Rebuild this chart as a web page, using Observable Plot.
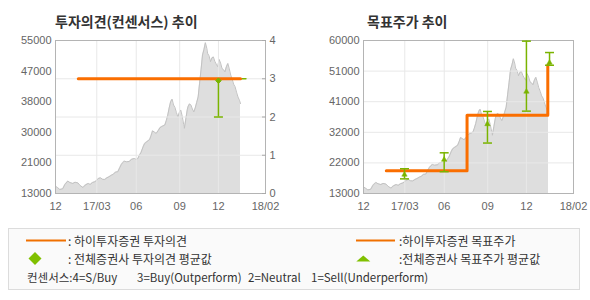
<!DOCTYPE html>
<html><head><meta charset="utf-8">
<script src="https://cdn.jsdelivr.net/npm/d3@7"></script>
<script src="https://cdn.jsdelivr.net/npm/@observablehq/plot@0.6"></script>
<style>
body{margin:0;background:#fff;}
#wrap{position:relative;width:590px;height:300px;overflow:hidden;background:#fff;font-family:"Noto Sans CJK KR","Noto Sans",sans-serif;}
.abs{position:absolute;}
.title{font-weight:bold;font-size:14px;color:#333;line-height:14px;white-space:pre;}
.lg{font-size:12px;color:#333;line-height:12px;white-space:pre;}
.lg3{font-size:11.5px;}
#legend{left:8px;top:228px;width:572px;height:62px;box-sizing:border-box;border:1px solid #dcdcdc;background:#fafafa;}
</style></head><body>
<div id="wrap">
  <div id="c1" class="abs" style="left:0;top:0"></div>
  <div id="c1b" class="abs" style="left:0;top:0"></div>
  <div id="c2" class="abs" style="left:295px;top:0"></div>
  <div class="abs title" style="left:55px;top:14px">투자의견(컨센서스) 추이</div>
  <div class="abs title" style="left:367px;top:14px">목표주가 추이</div>
  <div id="legend" class="abs"></div>
  <svg class="abs" style="left:0;top:0" width="590" height="300" id="lgsvg">
    <line x1="26" x2="66" y1="240.5" y2="240.5" stroke="#f07000" stroke-width="2"/>
    <polygon points="35,252 41.5,258.5 35,265 28.5,258.5" fill="#80c000"/>
    <line x1="356" x2="395" y1="240.5" y2="240.5" stroke="#f07000" stroke-width="2"/>
    <polygon points="363.3,255.5 370.3,261.5 356.3,261.5" fill="#80c000"/>
  </svg>
  <div class="abs lg" style="left:68px;top:234.5px">: 하이투자증권 투자의견</div>
  <div class="abs lg" style="left:68px;top:252.5px">: 전체증권사 투자의견 평균값</div>
  <div class="abs lg" style="left:399px;top:234.5px">:하이투자증권 목표주가</div>
  <div class="abs lg" style="left:399px;top:252.5px">:전체증권사 목표주가 평균값</div>
  <div class="abs lg lg3" style="left:27px;top:271px">컨센서스:4=S/Buy</div>
  <div class="abs lg lg3" style="left:137px;top:271px">3=Buy(Outperform)</div>
  <div class="abs lg lg3" style="left:248px;top:271px">2=Neutral</div>
  <div class="abs lg lg3" style="left:311px;top:271px">1=Sell(Underperform)</div>
</div>
<script>
// ---- data ----
const xTickPos = [0, 57, 111.5, 171.5, 225, 290];
const xTickLabels = ["12", "17/03", "06", "09", "12", "18/02"];

const priceIdx = [0,3,6,10,13,17,20,24,27,31,34,38,41,45,48,51,54,57,59,62,65,68,71,74,77,80,83,86,89,91,93,95,98,102,105,109,112,114,116,118,121,123,126,128,130,132,134,137,139,142,144,146,148,151,153,155,157,159,161,163,165,167,169,171,173,175,177,178,180,182,183,185,187,189,191,193,195,197,199,201,203,205,207,209,210,212,214,216,218,220,222,224,226,228,230,232,234,236,238,240,242,244,246,248,250,252,254,255.5];
const priceVal = [15000,14600,14100,14300,15500,16400,16000,15750,16100,15900,15200,14650,15300,15750,15500,16000,16200,16600,17100,17300,16900,16850,17300,17600,18000,18300,18900,18950,20200,21000,21500,21900,21700,21800,22400,22600,22300,22700,23600,24200,25800,26700,27200,27500,27800,28900,30200,29800,29500,30300,31000,31300,31500,31800,33000,34500,36500,38200,38900,37300,36600,35200,34000,35200,35900,34200,32000,30900,33500,36000,36800,37600,37300,36200,35400,36500,38000,39500,43300,47000,51000,52500,54400,52800,51500,50800,49200,50200,50500,49300,48500,47800,49800,48800,47300,47000,46400,47800,48700,47200,45500,44400,43000,42300,40800,39500,38600,37700];

const leftPriceTicks = [13000, 21400, 29800, 38200, 46600, 55000];
const leftPriceLabels = ["13000", "21000", "30000", "38000", "47000", "55000"];
const rightPriceTicks = [13000, 22400, 31800, 41200, 50600, 60000];
const rightPriceLabels = ["13000", "22000", "32000", "41000", "51000", "60000"];
const ratingTicks = [0, 1, 2, 3, 4];

// 하이투자증권 투자의견
const opinionIdx = [31.5, 255.5];
const opinionVal = [3, 3];
const consensusLineIdx = [255.5, 263];
const consensusLineVal = [3, 3];
// 전체증권사 투자의견 (min/max/avg)
const opBarIdx = [225];
const opLow = [2];
const opHigh = [3];
const opAvg = [2.95];

// 하이투자증권 목표주가
const targetIdx = [31.5, 143, 254.5];
const targetVal = [20000, 37000, 52400];
// 전체증권사 목표주가 (min/max/avg)
const tpBarIdx = [56.6, 111.4, 171.2, 225, 256.9];
const tpLow = [17500, 19700, 28500, 38300, 52400];
const tpHigh = [20600, 25500, 38200, 59800, 56300];
const tpAvg = [18800, 23400, 34300, 44300, 53200];

// ---- build ----
const green = "#7ab400", orange = "#fa6e00", grid = "#e8e8e8", frameC = "#b4b4b4";
const price = priceIdx.map((x, i) => ({x, v: priceVal[i]}));
const opinion = opinionIdx.map((x, i) => ({x, v: opinionVal[i]}));
const consLine = consensusLineIdx.map((x, i) => ({x, v: consensusLineVal[i]}));
const opBars = opBarIdx.map((x, i) => ({x, lo: opLow[i], hi: opHigh[i], avg: opAvg[i]}));
const target = targetIdx.map((x, i) => ({x, v: targetVal[i]}));
const tpBars = tpBarIdx.map((x, i) => ({x, lo: tpLow[i], hi: tpHigh[i], avg: tpAvg[i]}));

const capSymbol = {draw(ctx, size) { const r = Math.sqrt(size / Math.PI); ctx.moveTo(-r, 0); ctx.lineTo(r, 0); }};
const style = {fontFamily: "'Liberation Sans', Arial, sans-serif", fontSize: "11px", color: "#666", background: "transparent", overflow: "visible"};
const base = {width: 295, height: 220, marginTop: 40, marginBottom: 27, style};
const lab = (ticks, labels) => d => labels[ticks.indexOf(d)];

const bars = (data) => [
  Plot.ruleX(data, {x: "x", y1: "lo", y2: "hi", stroke: green, strokeWidth: 1.5}),
  Plot.dot(data, {x: "x", y: "lo", symbol: capSymbol, r: 4.5, stroke: green, strokeWidth: 1.5}),
  Plot.dot(data, {x: "x", y: "hi", symbol: capSymbol, r: 4.5, stroke: green, strokeWidth: 1.5})
];

const p1 = Plot.plot({
  ...base, marginLeft: 55, marginRight: 30,
  x: {domain: [0, 290], axis: null},
  y: {domain: [13000, 55000], axis: null},
  marks: [
    Plot.areaY(price, {x: "x", y: "v", fill: "#dedede", clip: true}),
    Plot.lineY(price, {x: "x", y: "v", stroke: "#c2c2c2", strokeWidth: 1, clip: true}),
    Plot.ruleX(xTickPos, {stroke: grid}),
    Plot.axisX(xTickPos, {label: null, tickSize: 0, tickPadding: 9, tickFormat: lab(xTickPos, xTickLabels)}),
    Plot.axisY(leftPriceTicks, {label: null, tickSize: 0, tickPadding: 4, tickFormat: lab(leftPriceTicks, leftPriceLabels)})
  ]
});
document.getElementById("c1").append(p1);

const p1b = Plot.plot({
  ...base, marginLeft: 55, marginRight: 30,
  x: {domain: [0, 290], axis: null},
  y: {domain: [0, 4], axis: null},
  marks: [
    Plot.ruleY([1, 2, 3], {stroke: grid}),
    Plot.frame({stroke: frameC}),
    Plot.axisY(ratingTicks, {label: null, anchor: "right", tickSize: 4, insetRight: 4, tickPadding: 0, tickFormat: () => "", stroke: "#aaa"}),
    Plot.axisY(ratingTicks, {label: null, anchor: "right", tickSize: 0, tickPadding: 4}),
    Plot.line(consLine, {x: "x", y: "v", stroke: green, strokeWidth: 1.5}),
    ...bars(opBars),
    Plot.line(opinion, {x: "x", y: "v", stroke: orange, strokeWidth: 3}),
    Plot.dot(opBars, {x: "x", y: "avg", symbol: "diamond2", r: 2.5, fill: green, stroke: green, strokeWidth: 1})
  ]
});
document.getElementById("c1b").append(p1b);

const p2 = Plot.plot({
  ...base, marginLeft: 68, marginRight: 17,
  x: {domain: [0, 290], axis: null},
  y: {domain: [13000, 60000], axis: null},
  marks: [
    Plot.areaY(price, {x: "x", y: "v", fill: "#dedede", clip: true}),
    Plot.lineY(price, {x: "x", y: "v", stroke: "#c2c2c2", strokeWidth: 1, clip: true}),
    Plot.ruleX(xTickPos, {stroke: grid}),
    Plot.ruleY(rightPriceTicks, {stroke: grid}),
    Plot.frame({stroke: frameC}),
    Plot.axisX(xTickPos, {label: null, tickSize: 0, tickPadding: 9, tickFormat: lab(xTickPos, xTickLabels)}),
    Plot.axisY(rightPriceTicks, {label: null, tickSize: 0, tickPadding: 4, tickFormat: lab(rightPriceTicks, rightPriceLabels)}),
    Plot.line(target, {x: "x", y: "v", curve: "step-after", stroke: orange, strokeWidth: 3}),
    ...bars(tpBars),
    Plot.dot(tpBars, {x: "x", y: "avg", symbol: "triangle", r: 2, fill: green, stroke: green, strokeWidth: 0.5})
  ]
});
document.getElementById("c2").append(p2);
</script>
</body></html>
